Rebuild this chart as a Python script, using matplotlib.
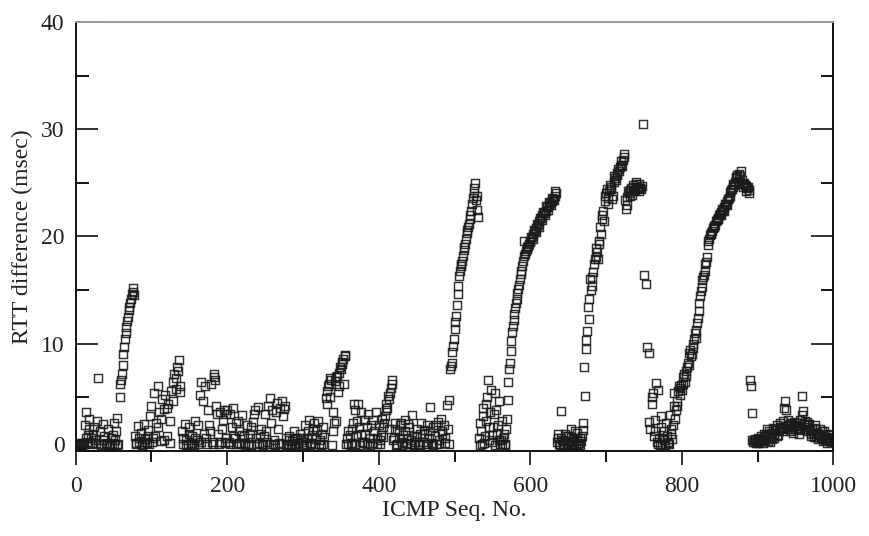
import matplotlib
matplotlib.use("Agg")
import matplotlib.pyplot as plt
from matplotlib.ticker import MultipleLocator
from matplotlib.transforms import ScaledTranslation

# RTT difference for even ICMP sequence numbers 0, 2, ..., 998
seq_even = list(range(0, 1000, 2))
rtt_even = [
    0.5, 0.6, 0.5, 0.7, 0.5, 0.6, 2.4, 3.6, 1.5, 3.0, 1.2, 0.6, 2.2, 1.0, 2.8, 6.8, 1.8, 0.6, 2.5, 1.4, 0.7, 2.0, 0.5, 1.2, 0.6,
    2.6, 1.0, 3.1, 0.6, 5.0, 6.6, 8.0, 9.7, 11.0, 12.1, 13.1, 13.8, 14.6, 15.2, 1.4, 0.6, 2.3, 0.8, 1.7, 0.6, 2.5, 1.1, 0.7, 1.9, 3.2,
    4.2, 1.2, 5.4, 2.6, 6.0, 3.6, 0.9, 4.8, 3.9, 5.2, 1.4, 4.4, 2.8, 5.6, 6.4, 7.2, 5.8, 7.8, 8.5, 5.5, 1.8, 0.6, 2.5, 1.0, 0.6,
    2.2, 0.7, 1.4, 0.5, 2.8, 1.0, 0.6, 5.2, 6.4, 4.6, 6.0, 1.2, 3.8, 2.4, 6.2, 0.8, 7.2, 6.6, 3.4, 1.6, 3.6, 0.8, 2.9, 3.8, 1.2,
    3.8, 0.8, 3.4, 2.2, 4.0, 1.2, 0.6, 2.8, 1.8, 0.6, 3.3, 1.4, 0.7, 2.4, 0.6, 1.6, 0.5, 2.7, 3.8, 1.2, 4.1, 0.7, 2.0, 0.6, 1.4,
    3.4, 0.8, 4.2, 4.9, 2.6, 0.6, 1.0, 3.6, 4.5, 0.7, 4.0, 4.6, 3.2, 4.2, 1.2, 0.6, 1.4, 0.5, 0.9, 1.8, 0.6, 1.2, 0.5, 1.6, 0.8,
    1.2, 2.4, 0.6, 1.8, 2.9, 0.7, 1.5, 2.6, 0.6, 1.9, 2.8, 1.0, 0.5, 2.2, 1.3, 4.9, 4.4, 6.2, 6.8, 0.5, 3.6, 6.5, 2.8, 5.5, 7.3,
    7.6, 8.1, 6.2, 8.8, 1.2, 0.6, 1.5, 0.7, 2.6, 3.8, 1.4, 4.4, 2.2, 3.6, 0.8, 2.9, 1.6, 0.6, 3.4, 1.2, 2.4, 0.7, 1.8, 3.6, 0.6,
    2.4, 1.0, 3.0, 1.3, 3.2, 4.4, 5.1, 2.0, 5.9, 6.6, 1.2, 2.6, 0.6, 1.8, 2.4, 0.8, 1.5, 2.9, 0.7, 1.2, 2.2, 0.6, 3.3, 1.4, 0.8,
    2.0, 0.6, 1.6, 2.6, 0.8, 1.9, 0.6, 2.4, 1.2, 4.1, 0.7, 2.2, 1.4, 0.6, 2.7, 1.0, 3.0, 1.6, 2.4, 1.2, 4.3, 4.7, 7.6, 8.2, 9.8,
    11.4, 12.6, 14.6, 16.3, 17.2, 17.7, 18.7, 19.3, 20.3, 20.9, 21.6, 22.4, 23.6, 24.5, 23.4, 22.5, 1.2, 2.6, 0.6, 3.2, 1.4, 4.4, 6.6, 2.2, 5.7,
    0.8, 3.4, 5.4, 1.6, 4.6, 0.6, 2.8, 1.2, 0.5, 2.0, 4.7, 7.6, 9.3, 11.1, 12.2, 13.3, 14.2, 15.1, 16.0, 16.8, 17.7, 18.2, 18.6, 19.0, 19.3,
    19.6, 19.9, 20.2, 20.5, 20.8, 21.1, 21.4, 21.7, 22.0, 22.2, 22.4, 22.7, 22.9, 23.1, 23.3, 23.5, 23.8, 24.0, 1.2, 0.6, 3.7, 1.0, 0.5, 1.6, 0.7,
    1.4, 0.6, 2.0, 0.8, 1.2, 0.5, 1.7, 0.7, 0.5, 1.4, 2.6, 5.1, 9.5, 13.4, 12.3, 15.0, 16.2, 17.4, 18.1, 18.5, 19.3, 20.9, 21.6, 22.4, 23.3,
    24.0, 23.0, 24.2, 24.6, 23.5, 25.1, 25.4, 25.7, 26.3, 26.5, 27.0, 27.1, 27.7, 22.6, 22.9, 24.0, 24.3, 23.9, 24.6, 24.3, 25.1, 24.5, 24.2, 24.4, 30.5,
    16.4, 15.6, 9.7, 9.1, 2.0, 4.4, 5.4, 2.9, 6.3, 5.7, 1.2, 3.2, 0.6, 1.8, 0.5, 1.4, 0.8, 3.3, 1.6, 2.4, 5.4, 3.8, 4.6, 6.0, 5.2,
    5.7, 6.9, 6.4, 7.4, 8.2, 9.1, 8.8, 9.6, 10.4, 10.5, 11.9, 13.0, 14.4, 15.3, 16.2, 16.8, 17.6, 19.6, 19.8, 20.2, 20.5, 20.9, 21.1, 21.5, 21.7,
    22.1, 22.3, 22.5, 22.7, 23.0, 23.3, 23.6, 24.1, 24.4, 24.9, 25.1, 25.5, 25.2, 25.8, 26.1, 24.9, 25.0, 24.7, 24.5, 24.3, 6.6, 3.5, 0.8, 1.1, 0.7,
    1.2, 0.8, 1.4, 0.9, 1.6, 1.0, 2.0, 1.4, 0.8, 1.7, 2.1, 1.2, 1.9, 2.4, 1.8, 2.6, 2.1, 2.8, 4.6, 2.3, 2.9, 1.8, 2.5, 2.2, 2.7,
    2.0, 2.6, 1.6, 2.9, 5.1, 3.7, 2.8, 2.2, 1.8, 2.5, 1.6, 2.0, 1.3, 2.4, 1.7, 1.1, 2.0, 1.4, 0.9, 1.6, 1.2, 0.7, 1.5, 1.0, 1.6,
]

# extra (odd sequence number) points along the steep ramps
burst_pts = [
    (59, 6.2), (61, 7.2), (63, 9.0), (65, 10.4), (67, 11.5), (69, 12.5), (71, 13.4), (73, 14.2), (75, 14.8), (77, 14.5),
    (331, 5.6), (333, 6.0), (335, 5.0), (337, 6.6), (341, 2.6), (343, 6.9), (345, 7.0), (347, 6.0), (349, 7.8),
    (351, 8.3), (353, 8.6), (355, 8.9),
    (405, 2.2), (407, 2.6), (409, 3.8), (411, 4.0), (413, 4.8), (415, 5.4), (417, 6.2),
    (495, 7.9), (497, 9.2), (499, 10.4), (501, 12.0), (503, 13.6), (505, 15.4), (507, 16.8), (509, 17.4),
    (511, 18.2), (513, 19.0), (515, 19.8), (517, 20.6), (519, 21.2), (521, 22.0), (523, 23.0), (525, 24.0),
    (527, 25.0), (529, 23.8), (531, 21.8),
    (571, 6.4), (573, 8.2), (575, 10.2), (577, 11.6), (579, 12.8), (581, 13.8), (583, 14.7), (585, 15.5),
    (587, 16.5), (589, 17.2), (591, 19.6), (593, 18.4), (595, 18.8), (597, 19.1), (599, 19.5),
    (601, 19.9), (603, 19.8), (605, 20.6), (607, 20.4), (609, 21.2), (611, 20.9), (613, 21.7), (615, 21.5),
    (617, 22.3), (619, 22.0), (621, 22.8), (623, 22.5), (625, 23.2), (627, 22.9), (629, 23.6), (631, 23.4), (633, 24.2),
    (671, 7.8), (673, 10.3), (675, 11.2), (677, 14.2), (679, 16.0), (681, 15.4), (683, 16.7), (685, 17.9),
    (687, 18.9), (689, 17.9), (691, 19.6), (693, 20.2), (695, 22.0), (697, 21.4), (699, 23.8),
    (701, 24.4), (703, 23.6), (705, 24.8), (707, 24.4), (709, 23.8), (711, 25.6), (713, 25.3), (715, 25.9),
    (717, 26.1), (719, 26.7), (721, 26.6), (723, 27.4), (725, 23.4), (727, 23.7), (729, 24.2), (731, 23.8),
    (733, 24.5), (735, 24.8), (737, 24.2), (739, 24.9), (741, 24.6), (743, 24.9), (745, 24.5), (747, 24.7),
    (801, 6.2), (803, 7.2), (805, 7.0), (807, 7.8), (809, 8.0), (811, 9.4), (813, 9.0), (815, 10.0),
    (817, 11.0), (819, 11.3), (821, 12.4), (823, 13.8), (825, 14.9), (827, 15.9), (829, 16.4), (831, 17.4),
    (833, 18.1), (835, 19.2), (837, 20.1), (839, 20.3), (841, 20.8), (843, 21.0), (845, 21.4), (847, 21.6),
    (849, 22.0), (851, 22.0), (853, 22.6), (855, 22.4), (857, 23.0), (859, 22.9), (861, 23.5), (863, 23.8),
    (865, 24.3), (867, 24.6), (869, 24.8), (871, 25.4), (873, 25.7), (875, 25.0), (877, 25.6), (879, 25.3),
    (881, 24.6), (883, 24.8), (885, 24.2), (887, 24.6), (889, 24.0), (891, 6.0),
]

# extra (odd sequence number) points in the low clusters
floor_pts = [
    (1, 0.5), (3, 0.5), (5, 0.6), (7, 0.5), (9, 0.7), (11, 0.6), (13, 1.2), (15, 0.8), (17, 2.0), (19, 0.7),
    (23, 1.6), (27, 0.7), (33, 0.5), (37, 1.0), (41, 0.6), (45, 0.5), (49, 1.5), (51, 0.6), (53, 1.8), (55, 0.5),
    (79, 0.7), (83, 1.2), (87, 0.5), (91, 0.8), (95, 1.4), (97, 0.6), (101, 0.8), (105, 1.4), (109, 2.2),
    (113, 3.0), (117, 1.0), (121, 4.0), (125, 0.7), (129, 4.6), (133, 6.8), (135, 7.4), (137, 6.0), (141, 1.2),
    (145, 0.5), (149, 1.6), (153, 0.6), (157, 1.2), (161, 2.4), (165, 0.8), (169, 1.6), (173, 0.6), (177, 1.8),
    (181, 0.6), (183, 6.9), (185, 4.2), (189, 0.6), (193, 2.0), (197, 0.7), (199, 3.4),
    (203, 0.6), (207, 1.4), (211, 2.6), (215, 0.7), (219, 1.5), (223, 0.5), (227, 1.2), (231, 2.2), (235, 3.4),
    (239, 0.6), (243, 1.6), (247, 0.5), (251, 1.8), (255, 0.6), (259, 3.8), (263, 0.5), (267, 2.0), (271, 0.6),
    (275, 3.9), (277, 0.5), (281, 1.0), (285, 0.6), (289, 1.2), (293, 0.7), (297, 1.0),
    (301, 0.5), (305, 1.2), (309, 0.5), (313, 2.0), (317, 1.1), (321, 0.6), (325, 1.6), (327, 0.6), (339, 1.8),
    (357, 0.6), (359, 1.8), (363, 0.5), (365, 2.0), (367, 4.4), (369, 0.6), (371, 2.8), (375, 0.5), (377, 1.6),
    (381, 0.7), (385, 2.2), (389, 0.5), (393, 2.9), (397, 1.2),
    (401, 0.6), (403, 1.5), (419, 1.0), (421, 2.0), (423, 0.5), (427, 1.2), (429, 2.6), (431, 0.5), (435, 1.8),
    (437, 0.6), (439, 2.5), (443, 1.0), (447, 0.5), (451, 1.4), (455, 0.5), (459, 1.6), (463, 0.6), (467, 1.8),
    (471, 0.5), (475, 2.4), (479, 0.6), (483, 1.8), (487, 0.7), (491, 2.0), (493, 0.6),
    (533, 0.5), (535, 1.8), (537, 4.0), (539, 0.7), (541, 2.8), (543, 5.0), (545, 1.0), (547, 3.6), (549, 1.5),
    (551, 2.2), (553, 0.5), (555, 3.8), (557, 2.4), (559, 1.0), (561, 1.0), (563, 0.6), (565, 1.6), (567, 0.6), (569, 3.0),
    (635, 0.8), (637, 1.6), (639, 0.5), (641, 1.2), (643, 0.6), (645, 0.9), (647, 1.4), (649, 0.5), (651, 0.9),
    (653, 1.3), (655, 0.6), (657, 0.5), (659, 1.8), (661, 1.0), (663, 0.6), (665, 1.2), (667, 0.9), (669, 1.9),
    (757, 2.7), (761, 5.0), (763, 1.4), (765, 1.8), (767, 0.8), (769, 0.6), (771, 0.5), (773, 2.2), (775, 1.2),
    (777, 1.0), (779, 2.6), (781, 0.7), (783, 0.6), (785, 2.0), (787, 1.1), (789, 4.2), (791, 3.0), (793, 4.2),
    (795, 5.6), (797, 5.9), (799, 6.1),
    (893, 1.0), (895, 1.0), (897, 0.8), (899, 0.9), (901, 0.7), (903, 1.1), (905, 1.0), (907, 0.7), (909, 1.3),
    (911, 1.5), (913, 0.9), (915, 1.8), (917, 1.3), (919, 1.1), (921, 1.6), (923, 2.0), (925, 1.4), (927, 1.5),
    (929, 2.2), (931, 2.1), (933, 1.8), (935, 4.0), (937, 3.8), (939, 2.0), (941, 2.4), (943, 2.6), (945, 2.0),
    (947, 1.7), (949, 2.4), (951, 2.3), (953, 1.9), (955, 2.1), (957, 2.3), (959, 3.3), (961, 2.5), (963, 2.0),
    (965, 2.7), (967, 2.4), (969, 1.9), (971, 1.4), (973, 1.7), (975, 2.1), (977, 1.3), (979, 1.6), (981, 1.5),
    (983, 1.2), (985, 1.8), (987, 1.8), (989, 1.0), (991, 1.1), (993, 1.3), (995, 0.9), (997, 0.8), (999, 1.2),
]

x_ticks = [0, 200, 400, 600, 800, 1000]
y_ticks = [0, 10, 20, 30, 40]

plt.rcParams["font.family"] = ["Liberation Serif", "DejaVu Serif"]

fig = plt.figure(figsize=(8.7, 5.36), dpi=100)
ax = fig.add_axes([0.087, 0.159, 0.871, 0.800])

seq_odd = [p[0] for p in burst_pts + floor_pts]
rtt_odd = [p[1] for p in burst_pts + floor_pts]

marker_style = dict(linestyle="none", marker="s", markersize=5.6, markerfacecolor="none",
                    markeredgecolor="#1a1a1a", markeredgewidth=1.05, alpha=0.9)
ax.plot(seq_even, rtt_even, **marker_style)
ax.plot(seq_odd, rtt_odd, **marker_style)

ax.set_xlim(0, 1000)
ax.set_ylim(0, 40)
ax.set_xticks(x_ticks)
ax.set_yticks(y_ticks)
ax.xaxis.set_minor_locator(MultipleLocator(100))
ax.yaxis.set_minor_locator(MultipleLocator(5))

ax.tick_params(axis="y", which="major", direction="in", length=16, width=1.3,
               labelsize=17, pad=8, right=True, colors="#222222")
ax.tick_params(axis="y", which="minor", direction="in", length=9, width=1.3, right=True)
ax.tick_params(axis="x", which="major", direction="out", length=10, width=1.3,
               labelsize=17, pad=8, top=False, colors="#222222")
ax.tick_params(axis="x", which="minor", direction="out", length=8, width=1.3, top=False)

for side in ["left", "bottom", "right"]:
    ax.spines[side].set_linewidth(1.4)
    ax.spines[side].set_color("#111111")
ax.spines["top"].set_color("#9a9a9a")
ax.spines["top"].set_linewidth(1.4)

ax.set_xlabel("ICMP Seq. No.", fontsize=17, labelpad=2, color="#222222")
ax.set_ylabel("RTT difference (msec)", fontsize=17, labelpad=6, color="#222222")

# the "0" label sits a little above the x axis in the original
zero_label = ax.yaxis.get_major_ticks()[0].label1
zero_label.set_transform(zero_label.get_transform() + ScaledTranslation(0, 5 / 72, fig.dpi_scale_trans))

fig.savefig("out.png", dpi=100)
